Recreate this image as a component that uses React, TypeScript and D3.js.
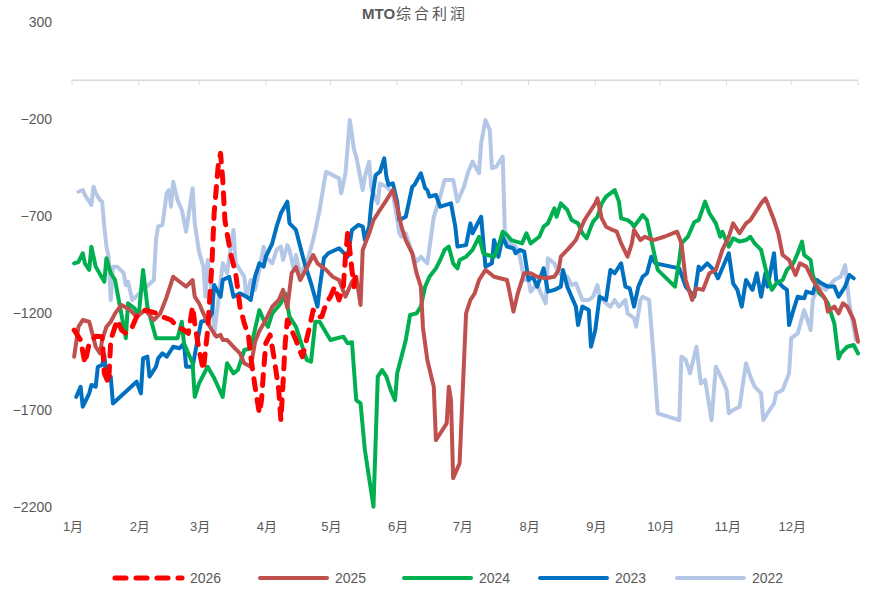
import React from 'react';
import * as d3 from 'd3';

const W = 871;
const H = 592;

const titleLatin = 'MTO';
const titleCJK = '综合利润';
const monthLabels = ['1月', '2月', '3月', '4月', '5月', '6月', '7月', '8月', '9月', '10月', '11月', '12月'];
const monthStartDays = [0, 31, 59, 90, 120, 151, 181, 212, 243, 273, 304, 334];
const yTicks = [300, -200, -700, -1200, -1700, -2200];
const seriesNames = ['2026', '2025', '2024', '2023', '2022'];

// [day of year, profit]
const s2026: [number, number][] = [
  [1, -1288], [4, -1339], [6, -1459], [8, -1356], [11, -1320], [14, -1322], [15, -1511], [17, -1563], [18, -1339],
  [21, -1236], [23, -1288], [25, -1305], [28, -1271], [30, -1219], [34, -1185], [39, -1200], [42, -1219], [46, -1236],
  [49, -1271], [52, -1288], [54, -1305], [56, -1167], [57, -1253], [59, -1391], [61, -1494], [63, -1288], [65, -944],
  [66, -686], [68, -428], [69, -377], [70, -514], [71, -721], [72, -789], [74, -910], [76, -995], [77, -1081],
  [78, -1167], [80, -1253], [82, -1322], [83, -1425], [85, -1580], [87, -1717], [88, -1649], [89, -1494], [90, -1356],
  [92, -1313], [94, -1442], [96, -1597], [97, -1752], [98, -1563], [99, -1356], [100, -1236], [102, -1288], [104, -1339],
  [105, -1374], [107, -1425], [110, -1288], [112, -1185], [114, -1219], [116, -1219], [118, -1150], [120, -1116],
  [122, -1064], [124, -1133], [126, -1064], [127, -910], [128, -789], [129, -875], [130, -978], [131, -1064], [132, -978],
];

const s2025: [number, number][] = [
  [1, -1425], [3, -1271], [5, -1236], [8, -1245], [9, -1288], [11, -1374], [13, -1408], [14, -1339], [16, -1271],
  [18, -1245], [20, -1202], [23, -1159], [27, -1185], [30, -1219], [34, -1185], [38, -1236], [41, -1202], [44, -1116],
  [47, -1013], [50, -1039], [53, -1064], [56, -1030], [57, -1116], [59, -1150], [61, -1202], [64, -1271], [67, -1322],
  [69, -1313], [70, -1339], [72, -1339], [75, -1374], [78, -1408], [80, -1459], [83, -1477], [85, -1350], [87, -1293],
  [90, -1236], [93, -1167], [96, -1133], [98, -1081], [100, -1174], [102, -995], [104, -963], [106, -1030], [109, -968],
  [112, -901], [114, -944], [118, -978], [121, -1013], [124, -1030], [127, -1116], [130, -1039], [132, -1013],
  [134, -1159], [135, -875], [138, -789], [140, -721], [143, -669], [146, -618], [149, -566], [151, -652], [153, -755],
  [155, -824], [158, -892], [160, -995], [162, -1064], [163, -1277], [165, -1442], [168, -1580], [169, -1855],
  [172, -1803], [174, -1769], [175, -1580], [176, -1649], [177, -2051], [180, -1975], [183, -1202], [185, -1133],
  [187, -1099], [189, -1030], [192, -978], [194, -995], [196, -1013], [202, -1030], [203, -1081], [205, -1193],
  [207, -1099], [210, -995], [213, -995], [216, -1013], [220, -1021], [224, -1013], [226, -978], [227, -910],
  [230, -875], [232, -850], [234, -824], [238, -721], [241, -669], [243, -635], [244, -609], [246, -712], [248, -755],
  [251, -772], [253, -781], [255, -841], [258, -910], [260, -841], [261, -772], [264, -824], [266, -807], [270, -824],
  [275, -807], [281, -781], [283, -841], [285, -1030], [288, -1133], [290, -1073], [293, -1081], [296, -995],
  [299, -978], [302, -875], [305, -807], [307, -738], [310, -789], [313, -738], [315, -721], [320, -635], [322, -609],
  [323, -635], [326, -721], [328, -789], [330, -901], [333, -927], [336, -1004], [338, -944], [341, -961], [344, -1030],
  [347, -1081], [350, -1133], [351, -1193], [354, -1167], [356, -1202], [358, -1150], [360, -1167], [363, -1236],
  [365, -1348],
];

const s2024: [number, number][] = [
  [1, -944], [3, -937], [5, -892], [6, -944], [8, -978], [9, -858], [11, -961], [15, -1039], [16, -918], [18, -995],
  [20, -1030], [22, -1150], [25, -1330], [26, -1150], [29, -1176], [31, -1210], [33, -978], [35, -1167], [39, -1330],
  [49, -1330], [51, -1245], [52, -1356], [56, -1459], [57, -1632], [59, -1563], [63, -1477], [66, -1535], [70, -1632],
  [72, -1459], [75, -1511], [77, -1494], [80, -1391], [83, -1382], [87, -1185], [89, -1236], [91, -1271], [93, -1202],
  [97, -1150], [99, -1099], [101, -1219], [104, -1271], [107, -1374], [109, -1442], [111, -1451], [113, -1245],
  [115, -1245], [120, -1339], [126, -1322], [128, -1356], [130, -1350], [132, -1649], [134, -1666], [136, -1906],
  [140, -2199], [142, -1528], [144, -1494], [146, -1528], [148, -1597], [150, -1649], [151, -1511], [153, -1425],
  [155, -1339], [157, -1210], [160, -1202], [162, -1167], [164, -1064], [166, -1013], [169, -970], [171, -927],
  [173, -875], [175, -858], [177, -944], [179, -970], [180, -927], [183, -910], [186, -875], [189, -807], [191, -892],
  [193, -901], [196, -910], [198, -858], [200, -781], [202, -798], [204, -824], [209, -841], [211, -789], [213, -841],
  [217, -807], [219, -755], [221, -738], [224, -660], [225, -704], [227, -635], [230, -669], [232, -721], [235, -738],
  [237, -789], [239, -815], [241, -755], [242, -729], [244, -704], [246, -635], [248, -600], [250, -583], [252, -566],
  [254, -626], [255, -712], [258, -721], [260, -738], [261, -755], [265, -695], [267, -721], [269, -824], [272, -978],
  [280, -1064], [282, -927], [283, -841], [286, -807], [289, -731], [291, -721], [294, -626], [296, -686], [299, -738],
  [301, -807], [302, -781], [305, -858], [307, -815], [310, -832], [313, -824], [315, -807], [317, -841], [320, -875],
  [323, -1013], [325, -1081], [327, -1047], [330, -1030], [332, -978], [335, -944], [337, -892], [339, -832],
  [340, -901], [343, -927], [344, -1004], [347, -1099], [349, -1116], [351, -1150], [354, -1253], [356, -1434],
  [357, -1408], [360, -1374], [363, -1365], [365, -1408],
];

const s2023: [number, number][] = [
  [2, -1632], [4, -1580], [5, -1683], [8, -1614], [9, -1571], [11, -1580], [12, -1477], [14, -1468], [15, -1416],
  [16, -1528], [18, -1528], [19, -1666], [30, -1554], [32, -1614], [33, -1434], [35, -1425], [36, -1528], [39, -1477],
  [40, -1434], [42, -1408], [44, -1425], [47, -1374], [50, -1382], [52, -1356], [53, -1477], [56, -1477], [58, -1356],
  [60, -1245], [63, -1236], [65, -1202], [66, -1056], [69, -1116], [70, -1030], [73, -1014], [75, -1116], [78, -1099],
  [81, -1116], [83, -1133], [85, -1013], [87, -944], [89, -961], [90, -910], [93, -841], [95, -755], [97, -686],
  [100, -626], [101, -738], [104, -772], [106, -858], [108, -944], [111, -1047], [114, -1167], [115, -1071],
  [117, -917], [119, -892], [124, -866], [128, -910], [129, -841], [130, -772], [133, -746], [135, -755], [136, -824],
  [138, -755], [139, -635], [141, -489], [143, -472], [145, -403], [146, -497], [147, -540], [149, -532], [151, -626],
  [152, -721], [155, -704], [158, -549], [159, -540], [162, -480], [164, -557], [165, -566], [166, -600], [169, -592],
  [171, -652], [176, -635], [178, -755], [179, -858], [183, -850], [185, -738], [186, -789], [190, -704], [192, -961],
  [195, -944], [196, -824], [198, -910], [200, -807], [202, -858], [205, -866], [206, -892], [208, -875], [210, -884],
  [212, -1030], [214, -1013], [216, -1064], [219, -970], [221, -1090], [224, -1081], [227, -1064], [228, -978],
  [230, -1064], [232, -1116], [234, -1167], [235, -1262], [237, -1167], [240, -1185], [241, -1374], [243, -1288],
  [245, -1116], [248, -1133], [250, -978], [252, -995], [255, -944], [257, -1064], [259, -1073], [261, -1167],
  [263, -1064], [265, -1013], [267, -995], [269, -910], [271, -944], [282, -970], [285, -1064], [289, -1116],
  [291, -961], [292, -978], [295, -944], [298, -978], [300, -1021], [305, -892], [307, -1047], [309, -1081],
  [311, -1167], [313, -1030], [316, -1081], [318, -995], [320, -1116], [322, -995], [323, -1064], [326, -892],
  [327, -1030], [330, -1064], [332, -1081], [333, -1262], [335, -1185], [337, -1116], [340, -1124], [341, -1090],
  [344, -1099], [346, -1030], [348, -1047], [351, -1064], [354, -1064], [356, -1116], [359, -1064], [361, -1004],
  [363, -1021],
];

const s2022: [number, number][] = [
  [3, -575], [5, -566], [6, -592], [9, -643], [10, -549], [11, -581], [13, -618], [14, -626], [15, -755], [16, -858],
  [17, -910], [18, -1133], [19, -961], [21, -961], [24, -994], [25, -1056], [26, -1039], [28, -1133], [38, -1030],
  [39, -824], [40, -755], [42, -746], [44, -581], [45, -566], [46, -652], [47, -523], [49, -618], [51, -669], [53, -781],
  [56, -557], [57, -738], [59, -884], [61, -961], [62, -1116], [63, -927], [65, -1097], [66, -1313], [68, -1133],
  [70, -943], [72, -994], [74, -839], [75, -772], [76, -944], [78, -978], [80, -1013], [81, -1116], [83, -1030],
  [84, -1030], [85, -1081], [87, -978], [89, -858], [90, -910], [93, -944], [95, -875], [97, -858], [98, -927],
  [100, -850], [101, -875], [103, -978], [104, -901], [106, -995], [109, -942], [112, -824], [115, -669], [117, -532],
  [118, -472], [124, -506], [125, -583], [127, -480], [129, -205], [131, -360], [132, -394], [135, -566], [136, -497],
  [138, -420], [139, -557], [142, -635], [143, -532], [146, -549], [149, -583], [152, -789], [153, -807], [155, -789],
  [158, -892], [160, -935], [162, -910], [165, -944], [168, -704], [171, -600], [173, -514], [177, -514], [179, -626],
  [182, -549], [184, -472], [186, -420], [189, -480], [190, -325], [192, -205], [194, -257], [195, -454], [197, -446],
  [200, -394], [201, -772], [203, -841], [206, -858], [208, -910], [210, -1030], [212, -1030], [213, -1090],
  [216, -1047], [217, -1081], [220, -1150], [221, -918], [224, -944], [226, -995], [230, -1013], [232, -1056],
  [234, -1047], [237, -1133], [240, -1133], [242, -1116], [244, -1056], [245, -1116], [248, -1150], [250, -1167],
  [252, -1133], [254, -1167], [257, -1133], [258, -1202], [261, -1227], [262, -1271], [264, -1133], [265, -1116],
  [268, -1133], [270, -1408], [272, -1717], [282, -1752], [283, -1425], [285, -1442], [287, -1511], [290, -1374],
  [292, -1563], [294, -1545], [297, -1752], [299, -1477], [302, -1545], [304, -1597], [305, -1717], [307, -1700],
  [310, -1683], [313, -1459], [315, -1528], [317, -1580], [320, -1614], [321, -1752], [323, -1717], [326, -1666],
  [327, -1614], [330, -1597], [333, -1511], [334, -1330], [337, -1305], [340, -1185], [341, -1219], [343, -1288],
  [344, -1133], [347, -1047], [348, -1064], [350, -1081], [354, -1030], [357, -1013], [359, -953], [361, -1150],
  [364, -1339],
];

const seriesData = [s2026, s2025, s2024, s2023, s2022];
const colors = ['#FF0000', '#C0504D', '#00B050', '#0070C0', '#B4C7E7'];

const FONT = "'Liberation Sans', 'Noto Sans CJK SC', sans-serif";
const TEXT = '#595959';

export default function App() {
  const x = d3.scaleLinear().domain([0, 365]).range([72, 858]);
  const y = d3.scaleLinear().domain([-2200, 300]).range([507, 22]);
  const line = d3
    .line<[number, number]>()
    .x((d) => x(d[0]))
    .y((d) => y(d[1]));

  const drawOrder = [4, 3, 2, 1, 0];
  const legendX = [113, 258, 402, 538, 675];
  const y0 = y(0);

  return (
    <svg
      width={W}
      height={H}
      viewBox={`0 0 ${W} ${H}`}
      style={{ position: 'absolute', left: 0, top: 0, background: '#fff' }}
    >
      <rect width={W} height={H} fill="#fff" />
      <text x={362} y={19} fontSize={15} fill={TEXT} fontFamily={FONT}>
        <tspan fontWeight="bold" fontFamily="'Liberation Sans', sans-serif">{titleLatin}</tspan>
        <tspan fontFamily="'Noto Sans CJK SC', sans-serif" letterSpacing={3} dx={1}>{titleCJK}</tspan>
      </text>
      {yTicks.map((t) => (
        <text key={t} x={52} y={y(t) + 5} textAnchor="end" fontSize={14} fill={TEXT} fontFamily={FONT}>
          {t < 0 ? '−' + Math.abs(t) : t}
        </text>
      ))}
      <line x1={x(0)} x2={x(365)} y1={y0} y2={y0} stroke="#D9D9D9" strokeWidth={1.5} />
      {[...monthStartDays, 365].map((d) => (
        <line key={d} x1={x(d)} x2={x(d)} y1={y0} y2={y0 + 5} stroke="#D9D9D9" strokeWidth={1} />
      ))}
      {monthLabels.map((m, i) => (
        <text key={m} x={x(monthStartDays[i]) + 1} y={531} textAnchor="middle" fontSize={13} fill={TEXT} fontFamily={FONT}>
          {m}
        </text>
      ))}
      {drawOrder.map((i) => (
        <path
          key={seriesNames[i]}
          d={line(seriesData[i]) || ''}
          fill="none"
          stroke={colors[i]}
          strokeWidth={i === 0 ? 5 : 4}
          strokeLinejoin="round"
          strokeLinecap="round"
          strokeDasharray={i === 0 ? '11 10' : undefined}
        />
      ))}
      {seriesNames.map((n, i) => (
        <g key={n}>
          <line
            x1={legendX[i] + 2}
            x2={legendX[i] + 69}
            y1={578}
            y2={578}
            stroke={colors[i]}
            strokeWidth={i === 0 ? 5 : 4}
            strokeLinecap="round"
            strokeDasharray={i === 0 ? '11 10' : undefined}
          />
          <text x={legendX[i] + 77} y={583} fontSize={14} fill={TEXT} fontFamily={FONT}>
            {n}
          </text>
        </g>
      ))}
    </svg>
  );
}
